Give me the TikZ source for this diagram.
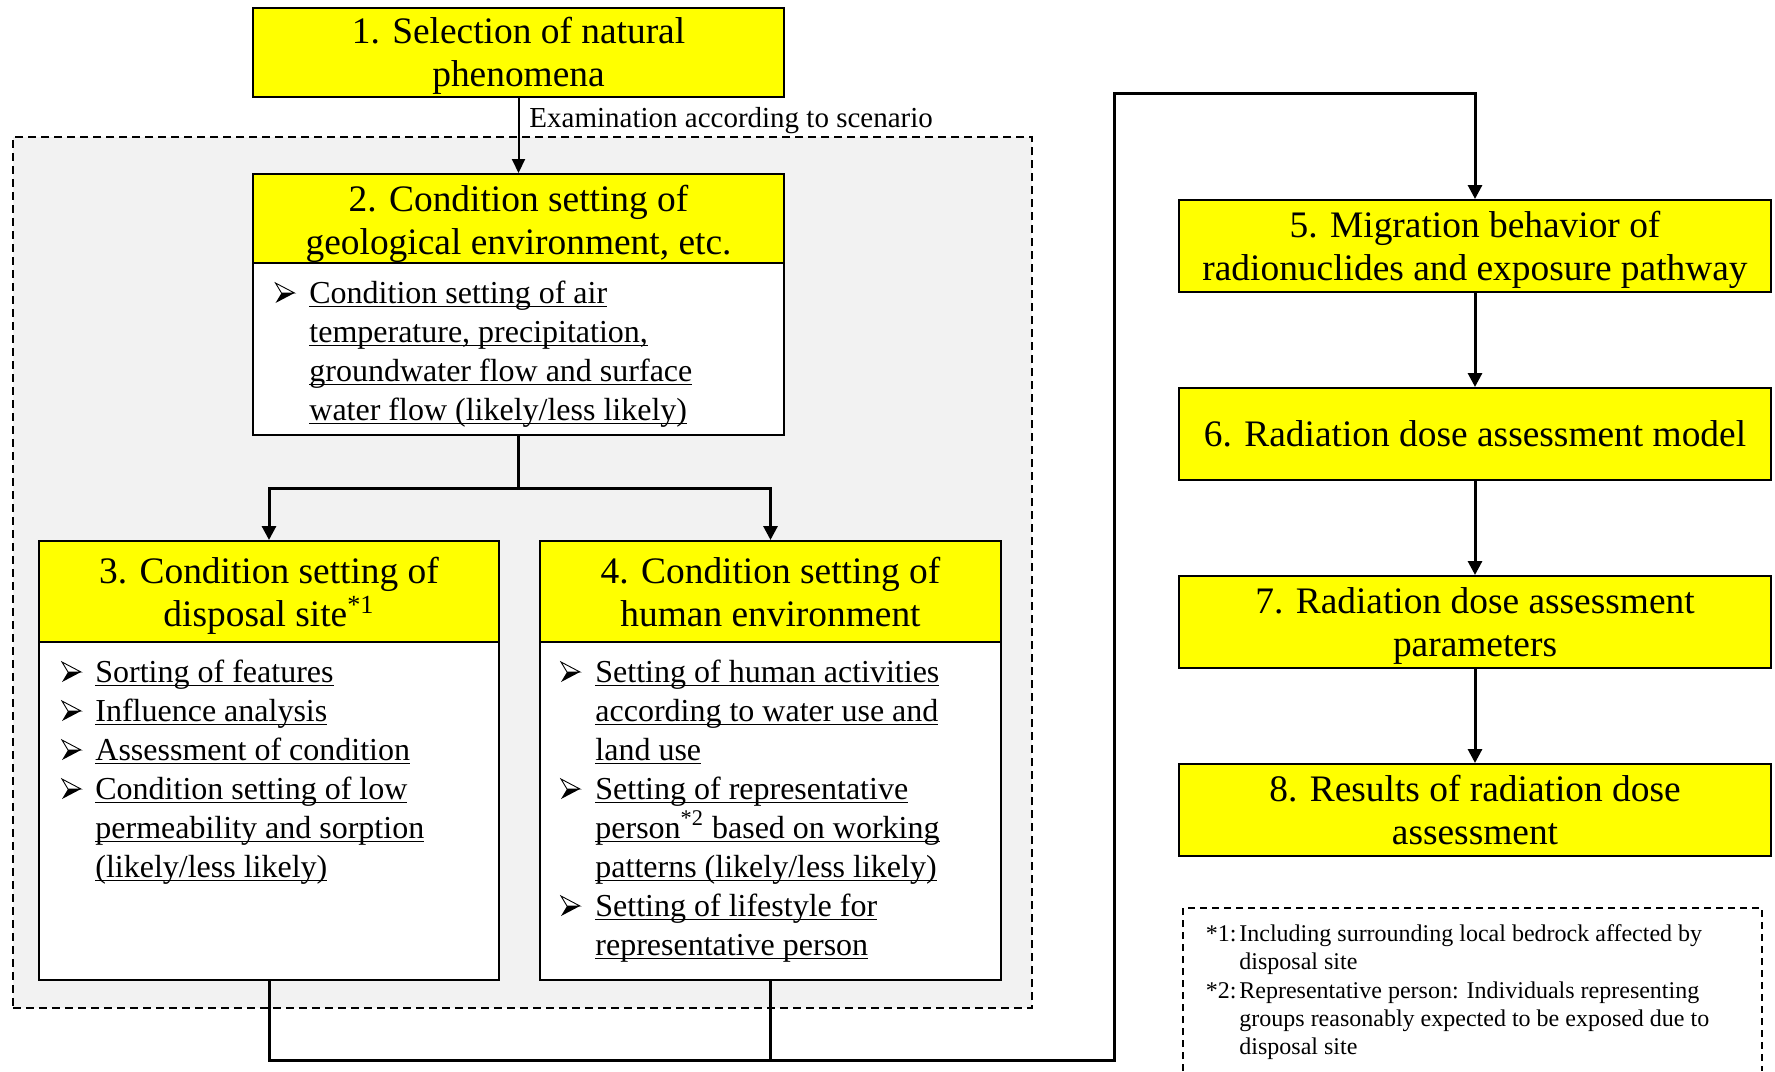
\documentclass[tikz,border=0pt]{standalone}
\usepackage{fontspec}
\setmainfont{Liberation Serif}
\usetikzlibrary{arrows.meta,fit}
\definecolor{boxyellow}{HTML}{FFFF00}
\definecolor{regiongray}{HTML}{F2F2F2}
\newcommand\ftitle{\fontsize{18.7pt}{21.6pt}\selectfont}
\newcommand\fbody{\fontsize{16pt}{19.5pt}\selectfont}
\newcommand\flabel{\fontsize{14.5pt}{17pt}\selectfont}
\newcommand\fnote{\fontsize{12pt}{14pt}\selectfont}
\newcommand\myul[1]{\setbox0=\hbox{#1}\rlap{\rule[-2.1pt]{\wd0}{0.6pt}}\box0}
\newcommand\clines[1]{\vtop{\halign{\hfil##\hfil\cr#1\crcr}}}
\newcommand\llines[1]{\vtop{\halign{##\hfil\cr#1\crcr}}}
\begin{document}
\begin{tikzpicture}[x=0.5pt,y=-0.5pt,
  ybox/.style={draw, line width=1pt, fill=boxyellow, inner sep=0pt},
  wbox/.style={draw, line width=1pt, fill=white, inner sep=0pt},
  region/.style={draw, line width=1.1pt, dash pattern=on 4pt off 2.5pt, fill=regiongray, inner sep=0pt},
  ttl/.style={anchor=base, inner sep=0pt, font=\ftitle},
  bodytxt/.style={anchor=base west, inner sep=0pt, font=\fbody},
  notetxt/.style={anchor=base west, inner sep=0pt, font=\fnote},
  conn/.style={line width=1.5pt},
  arr/.style={conn, -{Triangle[length=7pt,width=7pt]}},
  thinarr/.style={line width=1pt, -{Triangle[length=7pt,width=6.5pt]}},
  bul/.pic={
    \filldraw[fill=white, draw=black, line width=0.45pt, line join=miter] (0,-20) -- (19,-10) -- (6,-10) -- cycle;
    \fill[black] (6,-10) -- (19,-10) -- (0,0) -- cycle;
  }
]
\useasboundingbox (0,0) rectangle (1775,1071);

% shaded dashed region
\node[region, fit={(13,137) (1032,1008)}] (reg) {};

% box 1
\node[ybox, fit={(253,8) (784,97)}] (b1) {};
\node[ttl] (b1t) at (518.5,43.6) {\clines{1. Selection of natural\cr phenomena}};

% box 2
\node[ybox, fit={(253,174) (784,263)}] (b2h) {};
\node[wbox, fit={(253,263) (784,435)}] (b2b) {};
\node[ttl] (b2t) at (518.5,211) {\clines{2. Condition setting of\cr geological environment, etc.}};
\pic at (275.5,303) {bul};
\node[bodytxt] (b2x) at (309,303) {\llines{\myul{Condition setting of air}\cr
  \myul{temperature, precipitation,}\cr
  \myul{groundwater flow and surface}\cr
  \myul{water flow (likely/less likely)}}};

% box 3
\node[ybox, fit={(39,541) (499,642)}] (b3h) {};
\node[wbox, fit={(39,642) (499,980)}] (b3b) {};
\node[ttl] (b3t) at (269,583) {\clines{3. Condition setting of\cr disposal site\textsuperscript{*1}}};
\pic at (62,682) {bul};
\pic at (62,721) {bul};
\pic at (62,760) {bul};
\pic at (62,799) {bul};
\node[bodytxt] (b3x) at (95,682) {\llines{\myul{Sorting of features}\cr
  \myul{Influence analysis}\cr
  \myul{Assessment of condition}\cr
  \myul{Condition setting of low}\cr
  \myul{permeability and sorption}\cr
  \myul{(likely/less likely)}}};

% box 4
\node[ybox, fit={(540,541) (1001,642)}] (b4h) {};
\node[wbox, fit={(540,642) (1001,980)}] (b4b) {};
\node[ttl] (b4t) at (770.5,583) {\clines{4. Condition setting of\cr human environment}};
\pic at (561,682) {bul};
\pic at (561,799) {bul};
\pic at (561,916) {bul};
\node[bodytxt] (b4x) at (595,682) {\llines{\myul{Setting of human activities}\cr
  \myul{according to water use and}\cr
  \myul{land use}\cr
  \myul{Setting of representative}\cr
  \myul{person\textsuperscript{*2} based on working}\cr
  \myul{patterns (likely/less likely)}\cr
  \myul{Setting of lifestyle for}\cr
  \myul{representative person}}};

% right column
\node[ybox, fit={(1179,200) (1771,292)}] (b5) {};
\node[ttl] (b5t) at (1475,237.5) {\clines{5. Migration behavior of\cr radionuclides and exposure pathway}};
\node[ybox, fit={(1179,388) (1771,480)}] (b6) {};
\node[ttl] (b6t) at (1475,446) {6. Radiation dose assessment model};
\node[ybox, fit={(1179,576) (1771,668)}] (b7) {};
\node[ttl] (b7t) at (1475,613) {\clines{7. Radiation dose assessment\cr parameters}};
\node[ybox, fit={(1179,764) (1771,856)}] (b8) {};
\node[ttl] (b8t) at (1475,801) {\clines{8. Results of radiation dose\cr assessment}};

% connectors
\node[anchor=base west, inner sep=0pt, font=\flabel] (lab) at (529,127) {Examination according to scenario};
\draw[thinarr] (b1.south) -- (b2h.north);
\coordinate (j2) at (518.5,488);
\draw[conn] (b2b.south) -- (j2);
\draw[arr] (j2) -| (b3h.north);
\draw[arr] (j2) -| (b4h.north);
\coordinate (j5) at (1114,1060);
\coordinate (c1) at (1114,93);
\draw[arr] (b3b.south) |- (j5) -- (c1) -| (b5.north);
\draw[conn] (b4b.south) -- (b4b.south |- j5);
\draw[arr] (b5.south) -- (b6.north);
\draw[arr] (b6.south) -- (b7.north);
\draw[arr] (b7.south) -- (b8.north);

% footnotes
\draw[line width=0.75pt, dash pattern=on 3.5pt off 2.5pt] (1183,1071) -- (1183,908) -- (1762,908) -- (1762,1071);
\node[anchor=base east, inner sep=0pt, font=\fnote] (n1l) at (1237,941) {*1:};
\node[notetxt] (n1) at (1239,941) {\llines{Including surrounding local bedrock affected by\cr disposal site}};
\node[anchor=base east, inner sep=0pt, font=\fnote] (n2l) at (1237,998) {*2:};
\node[notetxt] (n2) at (1239,998) {\llines{Representative person: Individuals representing\cr groups reasonably expected to be exposed due to\cr disposal site}};
\end{tikzpicture}
\end{document}
